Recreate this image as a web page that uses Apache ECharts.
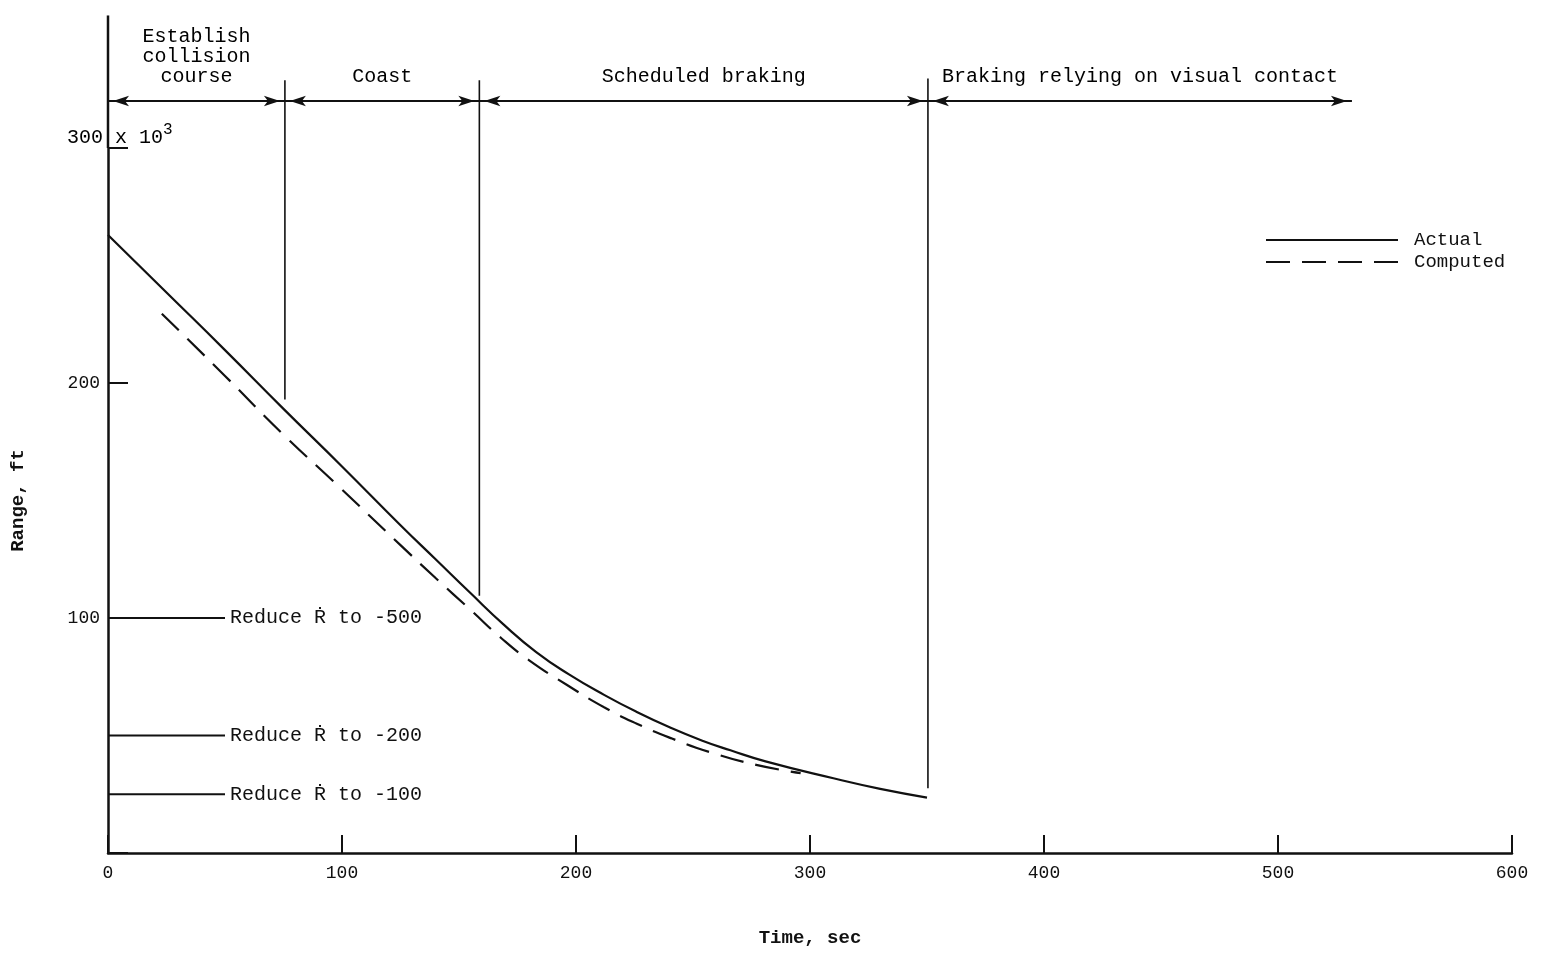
<!DOCTYPE html>
<html>
<head>
<meta charset="utf-8">
<script src="https://cdn.jsdelivr.net/npm/echarts@6/dist/echarts.min.js"></script>
<style>html,body{margin:0;padding:0;background:#fff;}#c{width:1543px;height:953px;}</style>
</head>
<body>
<div id="c"></div>
<script>
// ---- data (time in sec, range in thousands of ft) ----
const actualT = [0, 25, 50, 75, 100, 125, 140, 155, 169, 183, 197, 212, 226, 240, 254, 266, 281, 310, 330, 350];
const actualR = [263, 238.5, 214, 189, 164.5, 139.5, 125, 110.5, 97.3, 85.5, 76, 67.3, 60, 53.5, 47.8, 43.7, 39, 31.8, 27.3, 23.6];
const computedT = [23, 50, 75, 97, 125, 140, 155, 168, 180, 196, 212, 226, 241, 257, 277, 296];
const computedR = [229.5, 203, 178, 157.5, 131, 117, 103.4, 91.5, 82, 71.6, 62, 55, 48.7, 43, 37.5, 34];

const phaseBounds = [0, 75.6, 158.7, 350.4, 531.6];
const phaseNames = ['Establish\ncollision\ncourse', 'Coast', 'Scheduled braking', 'Braking relying on visual contact'];
const phaseArrowLevel = 320;
const boundaryTimes = [75.6, 158.7, 350.4];
const boundaryLow = [193, 109.5, 27.6];
const boundaryHigh = [328.8, 328.8, 329.6];
const axisTopExtent = 356.4;

const reduceLevels = [100, 50, 25];
const reduceLabels = ['Reduce \u1E58 to -500', 'Reduce \u1E58 to -200', 'Reduce \u1E58 to -100'];
const reduceEndT = 50;

const xTicks = [0, 100, 200, 300, 400, 500, 600];
const yTickLabels = {100: '100', 200: '200'};
const yTopLabel = ['300 x 10', '3'];

// ---- build ----
const MONO = '"Liberation Mono", "DejaVu Sans Mono", monospace';
const INK = '#111';
const zip = (a, b) => a.map((v, i) => [v, b[i]]);

const series = [];
series.push({
  name: 'Actual', type: 'line', data: zip(actualT, actualR), showSymbol: false, symbol: 'none',
  smooth: 0.5, lineStyle: {color: INK, width: 2.2, type: 'solid'}, itemStyle: {color: INK}, silent: true, z: 5
});
series.push({
  name: 'Computed', type: 'line', data: zip(computedT, computedR), showSymbol: false, symbol: 'none',
  smooth: 0.5, lineStyle: {color: INK, width: 2.2, type: [24, 12]}, itemStyle: {color: INK}, silent: true, z: 5
});
// left axis extension above plot
series.push({
  type: 'line', data: [[0, 300], [0, axisTopExtent]], symbol: 'none', clip: false, silent: true,
  lineStyle: {color: INK, width: 2.5}
});
// phase boundary verticals
boundaryTimes.forEach((t, i) => {
  series.push({
    type: 'line', data: [[t, boundaryLow[i]], [t, boundaryHigh[i]]], symbol: 'none', clip: false, silent: true,
    lineStyle: {color: INK, width: 1.6}
  });
});
// phase arrows (double-headed) and their labels
for (let i = 0; i < phaseNames.length; i++) {
  series.push({
    type: 'line', clip: false, silent: true, showSymbol: true, symbol: 'arrow', symbolSize: [8, 16],
    itemStyle: {color: INK, opacity: 1}, lineStyle: {color: INK, width: 2},
    data: [
      {value: [phaseBounds[i], phaseArrowLevel], symbolRotate: 90, symbolOffset: [5, 0]},
      {value: [phaseBounds[i + 1], phaseArrowLevel], symbolRotate: -90, symbolOffset: [-5, 0]}
    ]
  });
}
series.push({
  type: 'scatter', clip: false, silent: true, symbolSize: 0, itemStyle: {opacity: 1},
  data: phaseNames.map((n, i) => ({value: [(phaseBounds[i] + phaseBounds[i + 1]) / 2, phaseArrowLevel], name: n})),
  label: {show: true, position: 'top', distance: 14, formatter: p => p.name, color: '#000',
          fontFamily: MONO, fontSize: 20, lineHeight: 20, align: 'center'}
});
// reduce R-dot lines
reduceLevels.forEach((lv, i) => {
  series.push({
    type: 'line', data: [[0, lv], [reduceEndT, lv]], symbol: 'none', silent: true,
    lineStyle: {color: INK, width: 1.8},
    endLabel: {show: true, formatter: reduceLabels[i], color: INK, fontFamily: MONO, fontSize: 20, distance: 5}
  });
});
// top y label
series.push({
  type: 'scatter', data: [[0, 300]], symbolSize: 0, silent: true, clip: false, itemStyle: {opacity: 1},
  label: {show: true, formatter: '{a|' + yTopLabel[0] + '}{s|' + yTopLabel[1] + '}', position: [-41, -26],
          rich: {a: {color: '#000', fontFamily: MONO, fontSize: 20, verticalAlign: 'bottom'},
                 s: {color: '#000', fontFamily: MONO, fontSize: 16, padding: [0, 0, 10, 0], verticalAlign: 'bottom'}}}
});

const option = {
  backgroundColor: '#fff',
  animation: false,
  grid: {left: 108, right: 31, top: 148, bottom: 98, containLabel: false},
  legend: {
    data: ['Actual', 'Computed'], orient: 'vertical', left: 1265, top: 229, padding: 0,
    itemWidth: 132, itemHeight: 14, itemGap: 0, selectedMode: false,
    itemStyle: {opacity: 0},
    textStyle: {color: INK, fontFamily: MONO, fontSize: 19, lineHeight: 22, padding: [0, 0, 0, 11]}
  },
  xAxis: {
    type: 'value', min: 0, max: 600, interval: 100,
    name: 'Time, sec', nameLocation: 'middle', nameGap: 76,
    nameTextStyle: {color: INK, fontFamily: MONO, fontWeight: 'bold', fontSize: 19},
    axisLine: {show: true, lineStyle: {color: INK, width: 2.5}},
    axisTick: {show: true, inside: true, length: 18, lineStyle: {color: INK, width: 2}},
    axisLabel: {color: INK, fontFamily: MONO, fontSize: 18, margin: 11,
                formatter: v => xTicks.indexOf(v) >= 0 ? String(v) : ''},
    splitLine: {show: false}
  },
  yAxis: {
    type: 'value', min: 0, max: 300, interval: 100,
    name: 'Range, ft', nameLocation: 'middle', nameGap: 80, nameRotate: 90,
    nameTextStyle: {color: INK, fontFamily: MONO, fontWeight: 'bold', fontSize: 19},
    axisLine: {show: true, lineStyle: {color: INK, width: 2.5}},
    axisTick: {show: true, inside: true, length: 20, lineStyle: {color: INK, width: 2}},
    axisLabel: {color: INK, fontFamily: MONO, fontSize: 18, margin: 8,
                formatter: v => yTickLabels[v] || ''},
    splitLine: {show: false}
  },
  series: series
};
const chart = echarts.init(document.getElementById('c'), null, {renderer: 'canvas'});
chart.setOption(option);
</script>
</body>
</html>
